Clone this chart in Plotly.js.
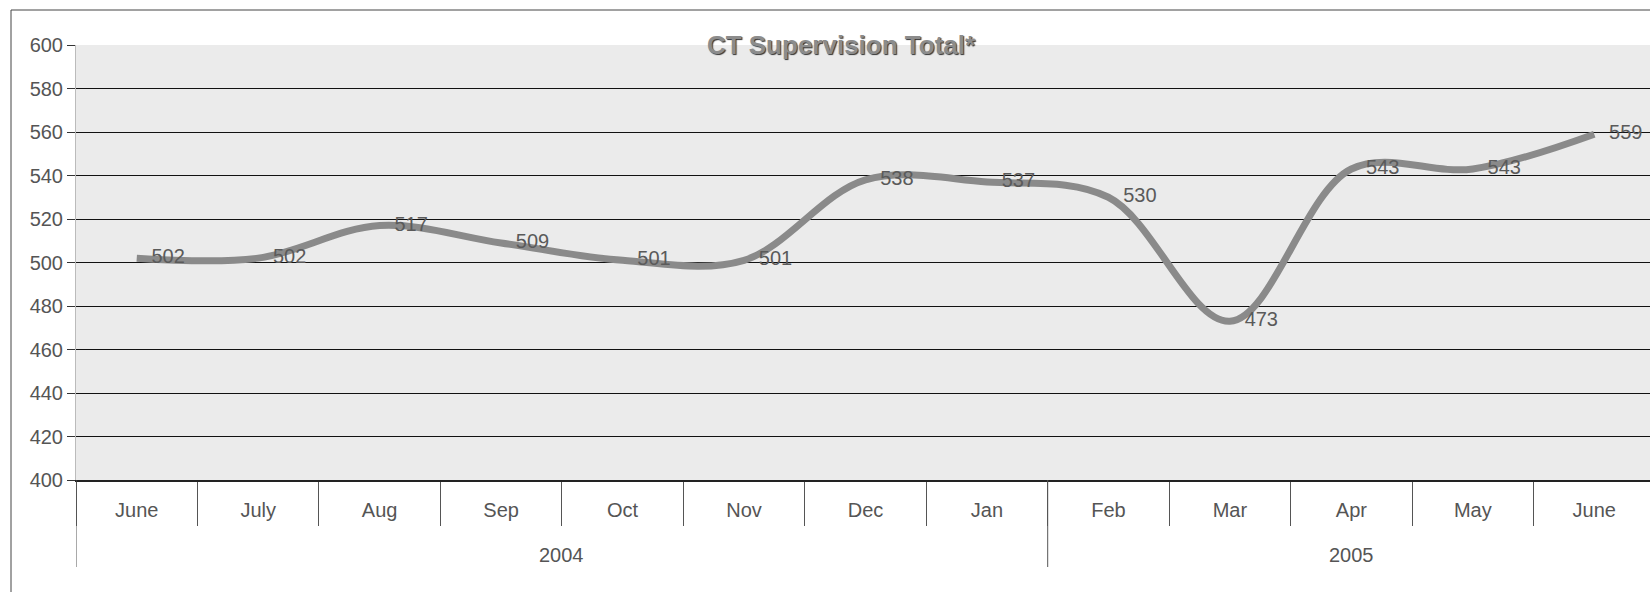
<!DOCTYPE html>
<html>
<head>
<meta charset="utf-8">
<script src="https://cdn.plot.ly/plotly-3.0.1.min.js"></script>
<style>
html,body{margin:0;padding:0;background:#fff;overflow:hidden;}
#chart{width:1655px;height:592px;}
</style>
</head>
<body>
<div id="chart"></div>
<script>
const years = ["2004","2004","2004","2004","2004","2004","2004","2004","2005","2005","2005","2005","2005"];
const months = ["June","July","Aug","Sep","Oct","Nov","Dec","Jan","Feb","Mar","Apr","May","June"];
const totals = [502, 502, 517, 509, 501, 501, 538, 537, 530, 473, 543, 543, 559];
const yTicks = [400, 420, 440, 460, 480, 500, 520, 540, 560, 580, 600];

const W = 1655, H = 592, L = 76, T = 45, B = 112, R = 0;
const pw = W - L - R, ph = H - T - B;
const FONT = 'Liberation Sans, Arial, sans-serif';

// unique category keys (month + year) so the two Junes stay separate
const keys = months.map((m, i) => m + ' ' + years[i]);

// year groups: start/end index from the years array
const groups = [];
years.forEach((y, i) => {
  if (!groups.length || groups[groups.length - 1].year !== y) groups.push({year: y, start: i, end: i});
  else groups[groups.length - 1].end = i;
});

const trace = {
  type: 'scatter',
  x: keys,
  y: totals,
  mode: 'lines+markers+text',
  line: {color: '#8a8a8a', width: 7, shape: 'spline', smoothing: 1},
  marker: {size: 22, color: 'rgba(0,0,0,0)', line: {width: 0}},
  text: totals.map(String),
  textposition: 'middle right',
  textfont: {family: FONT, size: 20, color: '#5a5a5a'},
  cliponaxis: false,
  hoverinfo: 'skip'
};

const shapes = [{
  type: 'rect', xref: 'paper', yref: 'paper',
  x0: (11 - L) / pw, x1: 1.02,
  y0: -0.3, y1: (H - B - 10) / ph,
  line: {color: '#444', width: 1},
  fillcolor: 'rgba(0,0,0,0)',
  layer: 'below'
}];
const annotations = [];
groups.forEach(g => {
  shapes.push({
    type: 'line', xref: 'x', yref: 'paper',
    x0: g.start - 0.5, x1: g.start - 0.5,
    y0: 0, y1: -87 / ph,
    line: {color: '#555', width: 1}
  });
  annotations.push({
    xref: 'x', yref: 'paper',
    x: (g.start + g.end) / 2, y: -75 / ph,
    text: g.year, showarrow: false,
    xanchor: 'center', yanchor: 'middle',
    font: {family: FONT, size: 20, color: '#555'}
  });
});

const layout = {
  width: W, height: H,
  margin: {l: L, r: R, t: T, b: B},
  paper_bgcolor: '#ffffff',
  plot_bgcolor: '#ebebeb',
  showlegend: false,
  font: {family: FONT, color: '#555'},
  title: {
    text: '<b>CT Supervision Total*</b>',
    font: {family: FONT, size: 26, color: '#8c8c8c', shadow: '1px 1px 1px #333'},
    xref: 'container', yref: 'container',
    x: 841 / W, y: 1 - 45 / H, xanchor: 'center', yanchor: 'middle'
  },
  xaxis: {
    type: 'category',
    range: [-0.5, keys.length - 0.5],
    tickmode: 'array',
    tickvals: keys,
    ticktext: months,
    tickson: 'boundaries',
    ticks: 'outside',
    ticklen: 44,
    tickcolor: '#555',
    tickwidth: 1,
    ticklabelstandoff: 11,
    showgrid: false,
    showline: true,
    linecolor: '#222',
    linewidth: 1.5,
    tickfont: {family: FONT, size: 20, color: '#555'},
    zeroline: false,
    fixedrange: true
  },
  yaxis: {
    range: [400, 600],
    tickvals: yTicks,
    ticktext: yTicks.map(String),
    showgrid: true,
    gridcolor: '#111',
    gridwidth: 1,
    ticks: 'outside',
    ticklen: 8,
    tickcolor: '#333',
    showline: true,
    linecolor: '#bbb',
    tickfont: {family: FONT, size: 20, color: '#555'},
    zeroline: false,
    fixedrange: true
  },
  shapes: shapes,
  annotations: annotations
};

Plotly.newPlot('chart', [trace], layout, {staticPlot: true, displayModeBar: false});
</script>
</body>
</html>
